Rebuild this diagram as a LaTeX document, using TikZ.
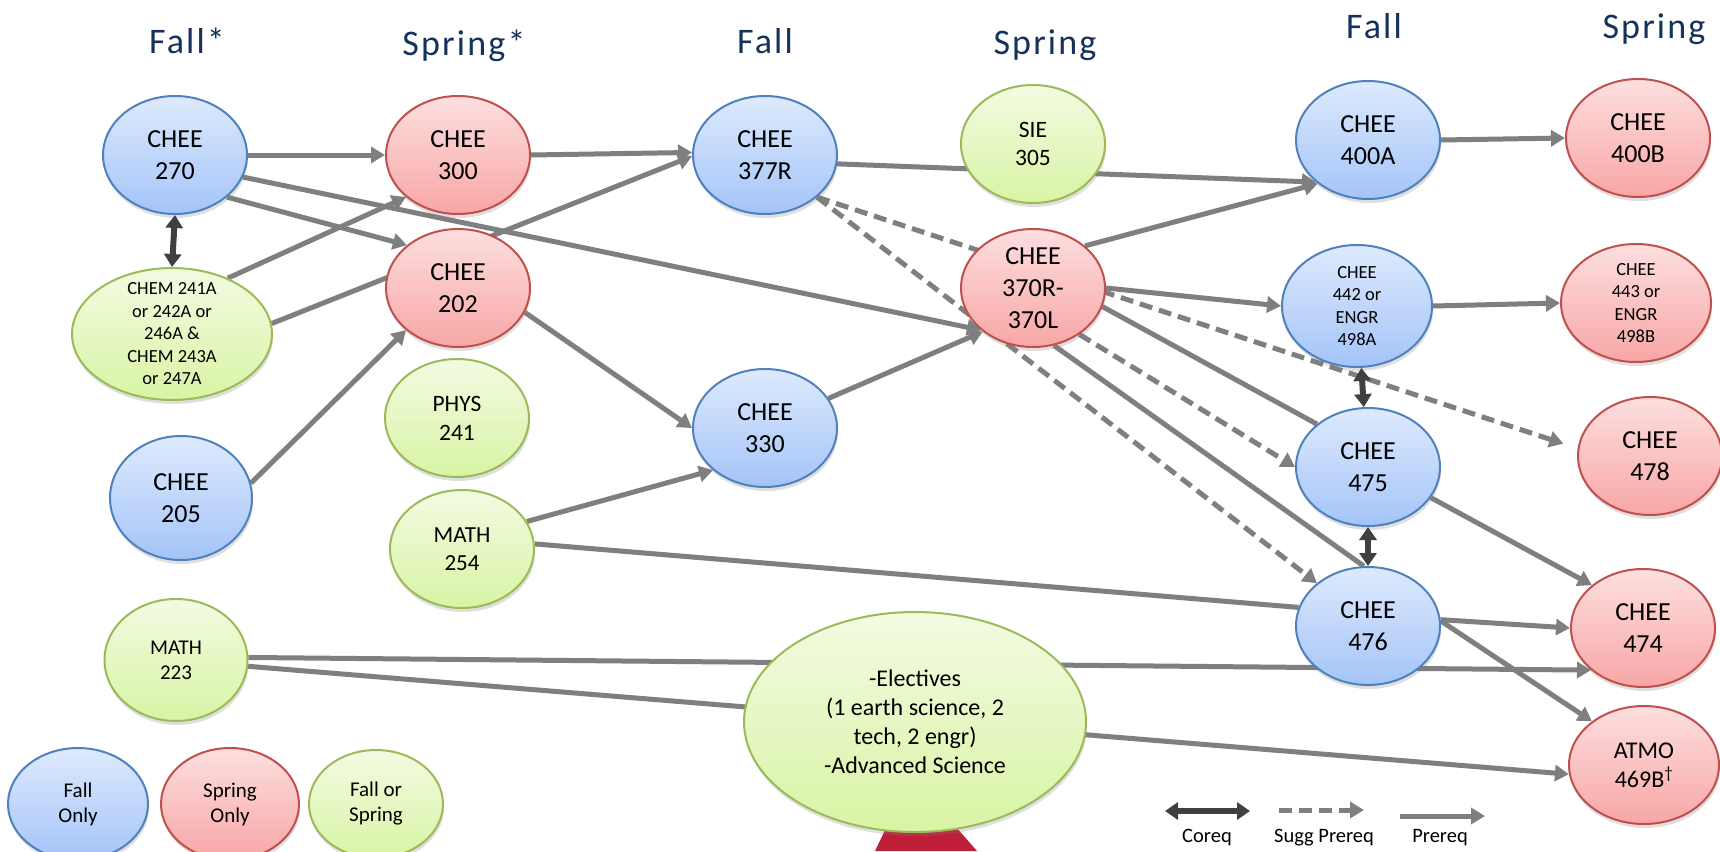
\documentclass[tikz,border=0pt]{standalone}
\usepackage{fontspec}
\setmainfont{Carlito}
\newfontfamily\headfont[LetterSpace=6]{Carlito}
\usetikzlibrary{shapes.geometric,arrows.meta,shadows,backgrounds}
\definecolor{blueT}{RGB}{222,234,253}
\definecolor{blueD}{RGB}{163,196,248}
\definecolor{blueB}{RGB}{79,129,189}
\definecolor{redT}{RGB}{253,223,223}
\definecolor{redD}{RGB}{248,166,166}
\definecolor{redB}{RGB}{192,80,77}
\definecolor{grnT}{RGB}{243,251,226}
\definecolor{grnD}{RGB}{216,244,164}
\definecolor{grnB}{RGB}{155,187,89}
\definecolor{lineG}{RGB}{127,127,127}
\definecolor{coreqC}{RGB}{64,64,64}
\definecolor{headC}{RGB}{20,50,90}
\definecolor{crimson}{RGB}{190,30,55}
\tikzset{
  course/.style={ellipse, line width=2pt, minimum width=144pt, minimum height=118pt,
    inner sep=0pt, align=center, text=black, font=\fontsize{26}{32}\selectfont,
    drop shadow={shadow xshift=1pt, shadow yshift=-4pt, opacity=0.25}},
  fallc/.style={course, draw=blueB, top color=blueT, bottom color=blueD},
  springc/.style={course, draw=redB, top color=redT, bottom color=redD},
  anyc/.style={course, draw=grnB, top color=grnT, bottom color=grnD},
  smallf/.style={font=\fontsize{18.5}{22.5}\selectfont},
  head/.style={anchor=base, text=headC, font={\headfont\fontsize{36}{40}\selectfont}},
  pre/.style={draw=lineG, line width=5pt, -{Triangle[length=14pt,width=16pt]}},
  plain/.style={draw=lineG, line width=5pt},
  sugg/.style={pre, dash pattern=on 13pt off 7pt},
  coreq/.style={draw=coreqC, line width=6pt, {Triangle[length=13pt,width=17pt]}-{Triangle[length=13pt,width=17pt]}},
  legtext/.style={anchor=base, font=\fontsize{20.5}{24}\selectfont}
}
\begin{document}
\begin{tikzpicture}[x=1pt,y=-1pt]
\useasboundingbox (0,0) rectangle (1720,851);
\begin{pgfonlayer}{background}
\fill[white] (0,0) rectangle (1720,851);
\end{pgfonlayer}
% headers
\node[head] (h1) at (187,53) {Fall*};
\node[head] (h2) at (464,56) {Spring*};
\node[head] (h3) at (765,53) {Fall};
\node[head] (h4) at (1045,55) {Spring};
\node[head] (h5) at (1374,39) {Fall};
\node[head] (h6) at (1654,39) {Spring};
% red shape behind electives
\fill[crimson] (875,851) -- (887,826) -- (955,826) -- (977,851) -- cycle;
% nodes
\node[fallc] (c270) at (175,155) {CHEE\\270};
\node[anyc, smallf, minimum width=200pt, minimum height=132pt, inner ysep=-20pt] (chem) at (172,334) {CHEM 241A\\or 242A or\\246A \&\\CHEM 243A\\or 247A};
\node[fallc, minimum width=142pt, minimum height=124pt] (c205) at (181,498) {CHEE\\205};
\node[anyc, minimum width=143pt, minimum height=122pt, font=\fontsize{21}{25}\selectfont] (m223) at (176,660) {MATH\\223};
\node[springc] (c300) at (458,155) {CHEE\\300};
\node[springc] (c202) at (458,288) {CHEE\\202};
\node[anyc, font=\fontsize{23.5}{29}\selectfont] (p241) at (457,418) {PHYS\\241};
\node[anyc, font=\fontsize{23}{28}\selectfont] (m254) at (462,549) {MATH\\254};
\node[fallc] (c377) at (765,155) {CHEE\\377R};
\node[fallc] (c330) at (765,428) {CHEE\\330};
\node[anyc, font=\fontsize{23.5}{28}\selectfont] (s305) at (1033,144) {SIE\\305};
\node[springc] (c370) at (1033,288) {CHEE\\370R-\\370L};
\node[fallc] (c400a) at (1368,140) {CHEE\\400A};
\node[fallc, smallf, minimum width=150pt, minimum height=122pt] (c442) at (1357,306) {CHEE\\442 or\\ENGR\\498A};
\node[fallc] (c475) at (1368,467) {CHEE\\475};
\node[fallc] (c476) at (1368,626) {CHEE\\476};
\node[springc] (c400b) at (1638,138) {CHEE\\400B};
\node[springc, smallf, minimum width=150pt] (c443) at (1636,303) {CHEE\\443 or\\ENGR\\498B};
\node[springc] (c478) at (1650,456) {CHEE\\478};
\node[springc] (c474) at (1643,628) {CHEE\\474};
\node[springc, minimum width=150pt, font=\fontsize{24}{29}\selectfont] (atmo) at (1644,765) {ATMO\\469B\textsuperscript{†}};
\node[anyc, minimum width=342pt, minimum height=220pt, font=\fontsize{24}{29}\selectfont] (elect) at (915,722) {-Electives\\(1 earth science, 2\\tech, 2 engr)\\-Advanced Science};
% legend nodes
\node[fallc, minimum width=140pt, minimum height=112pt, font=\fontsize{21}{25}\selectfont] (lg1) at (78,804) {Fall\\Only};
\node[springc, minimum width=138pt, minimum height=112pt, font=\fontsize{21}{25}\selectfont] (lg2) at (230,804) {Spring\\Only};
\node[anyc, minimum width=134pt, minimum height=108pt, font=\fontsize{21}{25}\selectfont] (lg3) at (376,804) {Fall or\\Spring};
% connectors (behind nodes)
\begin{pgfonlayer}{background}
\draw[pre] (c270.0) -- (c300.180);
\draw[pre] (c270.-39.3) -- (c202.140.7);
\draw[pre] (c270.-18.7) -- (c370.219.3);
\draw[pre] (chem.45.5) -- (c300.219.3);
\draw[pre] (chem.6.7) -- (c377.181);
\draw[pre] (c300.0) -- (c377.178);
\draw[pre] (c205.12) -- (c202.219.3);
\draw[pre] (c202.-20.6) -- (c330.180);
\draw[pre] (m254.23.2) -- (c330.219.3);
\draw[plain] (m254.4.7) -- (c476.165);
\draw[pre] (c330.25) -- (c370.221);
\draw[pre] (c377.-7.9) -- (c400a.219.3);
\draw[pre] (c370.39.3) -- (c400a.221);
\draw[pre] (c370.0) -- (c442.180);
\draw[plain] (c370.-15.4) -- (c475.140.7);
\draw[sugg] (c370.-45) -- (c475.180);
\draw[plain] (c370.-70.7) -- (c476.94.8);
\draw[sugg] (c377.-39.3) -- (c476.140.7);
\draw[sugg, shorten >=15pt] (c377.-39.3) -- (c478.174.7);
\draw[pre] (c400a.0) -- (c400b.180);
\draw[pre] (c442.0) -- (c443.180);
\draw[pre] (c475.-26.6) -- (c474.140.7);
\draw[pre] (c476.5) -- (c474.180);
\draw[pre] (c476.4) -- (atmo.140.7);
\draw[pre] (m223.2.4) -- (c474.219.3);
\draw[pre] (m223.-5.5) -- (atmo.187);
\end{pgfonlayer}
% coreqs
\draw[coreq] (c270.-90) -- (chem.90);
\draw[coreq] (c442.-86) -- (c475.94);
\draw[coreq] (c475.-90) -- (c476.90);
% legend connectors
\coordinate (k1a) at (1165,811);
\coordinate (k1b) at (1250,811);
\coordinate (k2a) at (1279,810);
\coordinate (k2b) at (1364,810);
\coordinate (k3a) at (1400,816);
\coordinate (k3b) at (1485,816);
\draw[coreq] (k1a) -- (k1b);
\draw[sugg] (k2a) -- (k2b);
\draw[pre] (k3a) -- (k3b);
\node[legtext] (t1) at (1207,842) {Coreq};
\node[legtext] (t2) at (1324,842) {Sugg Prereq};
\node[legtext] (t3) at (1440,842) {Prereq};
\end{tikzpicture}
\end{document}
